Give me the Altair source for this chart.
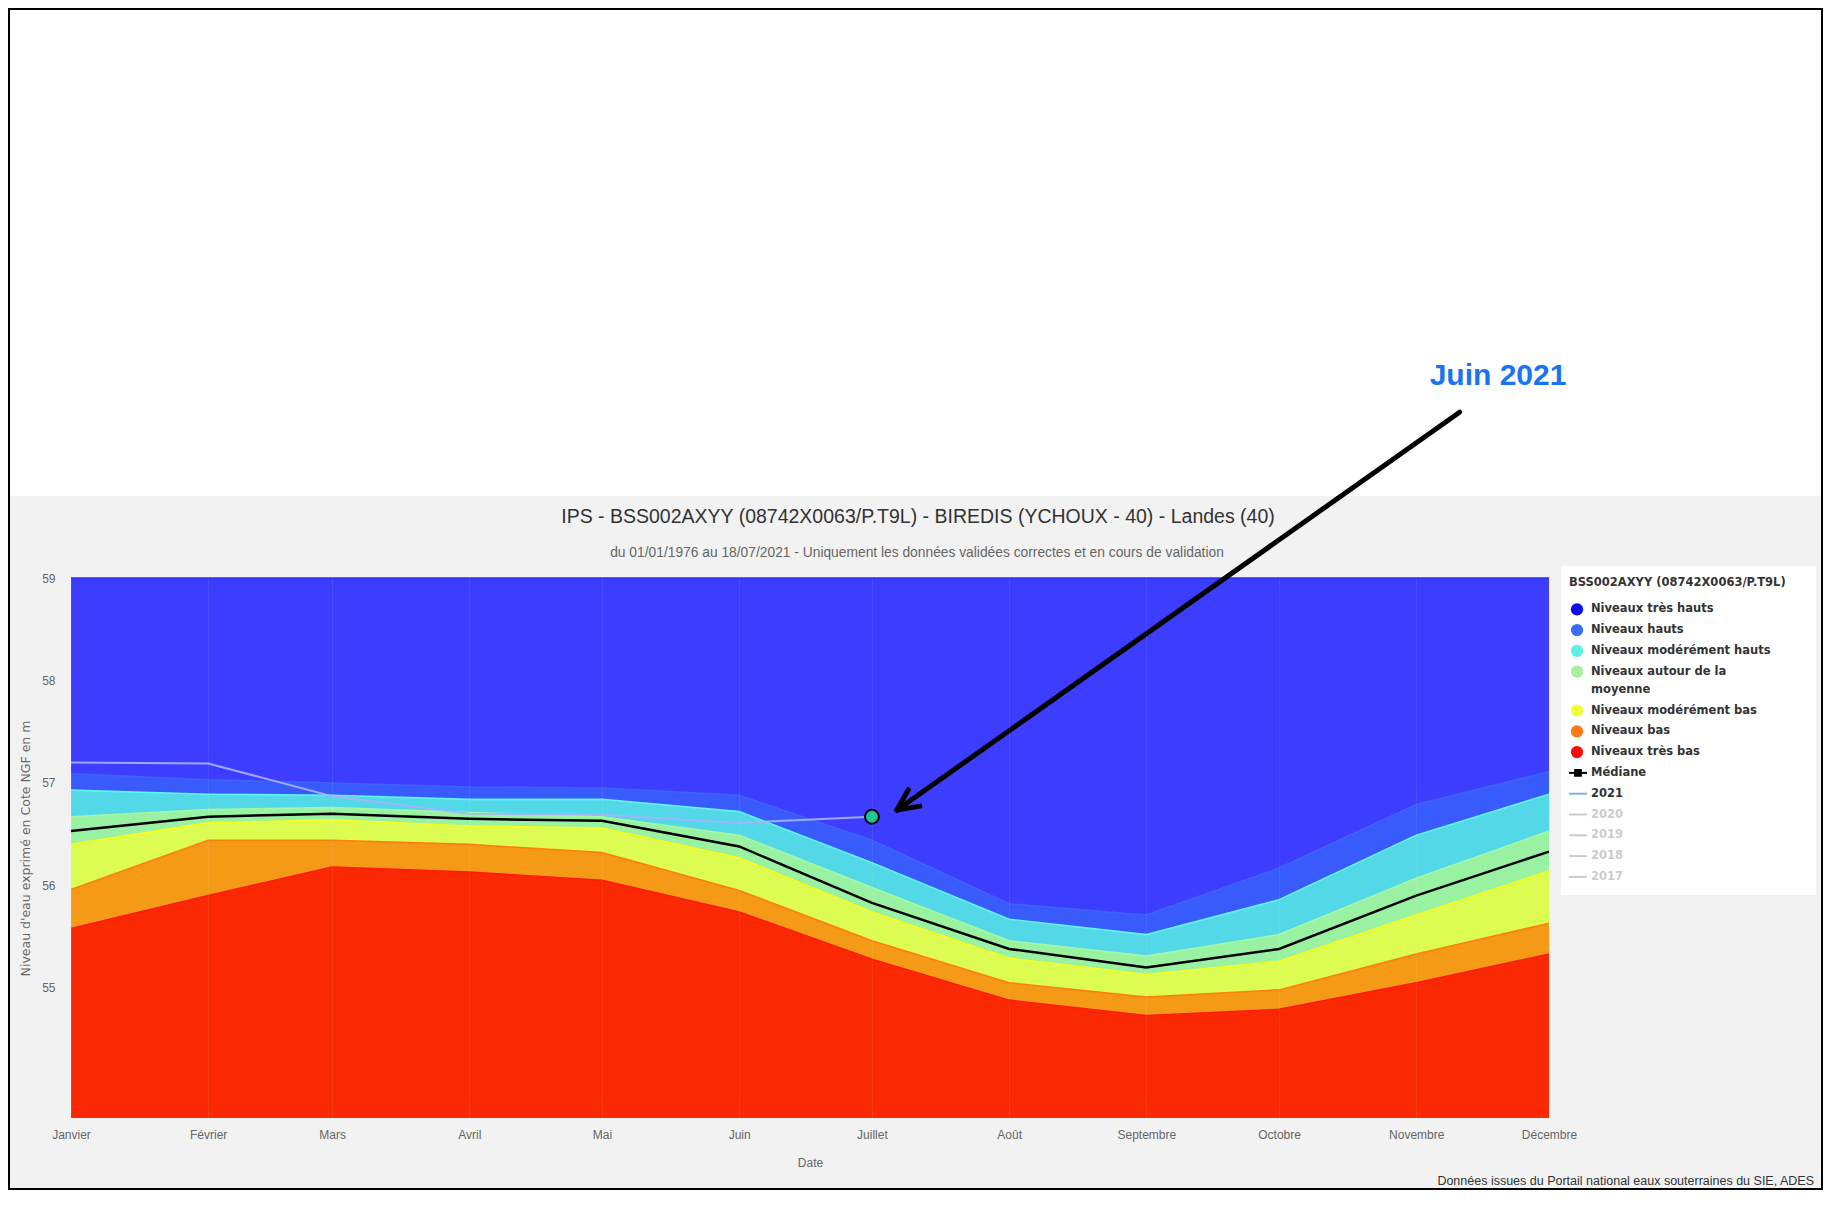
import altair as alt
import pandas as pd

# ---------------- data ----------------
MONTHS = ["Janvier", "Février", "Mars", "Avril", "Mai", "Juin", "Juillet",
          "Août", "Septembre", "Octobre", "Novembre", "Décembre"]
DAYS = [0, 31, 59, 90, 120, 151, 181, 212, 243, 273, 304, 334]
Y_MIN, Y_MAX = 53.73, 59.0
Y_TICKS = [55, 56, 57, 58, 59]

# upper boundary of each band (bottom -> top)
TOP_VERY_LOW = [55.58, 55.90, 56.18, 56.13, 56.05, 55.74, 55.28, 54.88, 54.73, 54.79, 55.05, 55.33]
TOP_LOW      = [55.96, 56.44, 56.44, 56.40, 56.32, 55.95, 55.46, 55.05, 54.91, 54.98, 55.33, 55.63]
TOP_MOD_LOW  = [56.40, 56.61, 56.64, 56.58, 56.56, 56.27, 55.74, 55.29, 55.13, 55.26, 55.71, 56.14]
TOP_MEAN     = [56.67, 56.74, 56.76, 56.71, 56.67, 56.49, 55.98, 55.46, 55.31, 55.52, 56.07, 56.53]
TOP_MOD_HIGH = [56.93, 56.89, 56.88, 56.84, 56.84, 56.72, 56.22, 55.67, 55.52, 55.86, 56.49, 56.89]
TOP_HIGH     = [57.09, 57.03, 57.00, 56.96, 56.95, 56.88, 56.44, 55.82, 55.71, 56.17, 56.79, 57.11]
TOP_VERY_HIGH = [Y_MAX] * 12
MEDIANE      = [56.53, 56.67, 56.70, 56.65, 56.63, 56.38, 55.83, 55.38, 55.20, 55.38, 55.90, 56.33]
Y2021        = [57.20, 57.19, 56.87, 56.70, 56.69, 56.61, 56.67]

BANDS = ["Niveaux très bas", "Niveaux bas", "Niveaux modérément bas",
         "Niveaux autour de la moyenne", "Niveaux modérément hauts",
         "Niveaux hauts", "Niveaux très hauts"]
BAND_TOPS = [TOP_VERY_LOW, TOP_LOW, TOP_MOD_LOW, TOP_MEAN, TOP_MOD_HIGH, TOP_HIGH, TOP_VERY_HIGH]
FILL_COLORS = ["#fb2804", "#f49a16", "#dcfc52", "#99f2a2", "#52d8e6", "#3a5bfb", "#3d3dff"]
LINE_COLORS = ["#ff1a00", "#ff7f0a", "#f8ff1a", "#a4f7a4", "#5ff5f5", "#3d62ff", "#2b2bff"]
LEGEND_COLORS = ["#ff0a0a", "#ff7a10", "#eeff33", "#a8f0a0", "#5ef0e0", "#3a6cff", "#0a0af0"]

TITLE = "IPS - BSS002AXYY (08742X0063/P.T9L) - BIREDIS (YCHOUX - 40) - Landes (40)"
SUBTITLE = "du 01/01/1976 au 18/07/2021 - Uniquement les données validées correctes et en cours de validation"
LEGEND_TITLE = "BSS002AXYY (08742X0063/P.T9L)"
YEARS_OLD = ["2020", "2019", "2018", "2017"]
FOOTER = "Données issues du Portail national eaux souterraines du SIE, ADES"
ANNOT = "Juin 2021"

# ---------------- tables ----------------
rows = []
for bi, name in enumerate(BANDS):
    lower = BAND_TOPS[bi - 1] if bi > 0 else [Y_MIN] * 12
    for d, lo, up in zip(DAYS, lower, BAND_TOPS[bi]):
        rows.append({"day": d, "lower": lo, "upper": up, "band": name, "order": bi})
bands_df = pd.DataFrame(rows)
med_df = pd.DataFrame({"day": DAYS, "value": MEDIANE})
y21_df = pd.DataFrame({"day": DAYS[:len(Y2021)], "value": Y2021})
last_df = y21_df.tail(1)

FONT = "Liberation Sans"
LFONT = "DejaVu Sans"
W, H = 1478, 540

label_expr = "[" + ",".join("'%s'" % m for m in MONTHS) + "][indexof([" + \
    ",".join(str(d) for d in DAYS) + "], datum.value)]"

xscale = alt.Scale(domain=[0, 334], nice=False, zero=False)
yscale = alt.Scale(domain=[Y_MIN, Y_MAX], nice=False, zero=False)

x_axis = alt.Axis(values=DAYS, labelExpr=label_expr, title="Date", grid=True,
                  gridColor="#ffffff", gridOpacity=0.07, gridWidth=1,
                  ticks=False, tickSize=0, domain=False, labelFlush=False,
                  labelOverlap=False, labelBound=False,
                  labelFont=FONT, labelFontSize=12, labelColor="#666666",
                  labelBaseline="middle", labelPadding=16,
                  titleFont=FONT, titleFontSize=12, titleColor="#666666",
                  titleFontWeight="normal", titleX=739, titleY=44,
                  titleBaseline="middle", titleAlign="center", zindex=1)
y_axis = alt.Axis(values=Y_TICKS, format="d", title="Niveau d'eau exprimé en Cote NGF en m",
                  grid=False, ticks=False, tickSize=0, domain=False,
                  labelFont=FONT, labelFontSize=12, labelColor="#666666",
                  labelPadding=16, labelAlign="right", labelBaseline="middle",
                  labelFlush=False, labelOverlap=False,
                  titleFont=LFONT, titleFontSize=12.5, titleColor="#666666",
                  titleFontWeight="normal", titleX=-46, titleY=270,
                  titleAngle=270, titleAlign="center", titleBaseline="middle",
                  zindex=1)

ONE = pd.DataFrame({"k": [0]})


def txt(s, x, y, **kw):
    return alt.Chart(ONE).mark_text(**kw).encode(
        x=alt.value(x), y=alt.value(y), text=alt.value(s))


def seg(x1, y1, x2, y2, **kw):
    return alt.Chart(ONE).mark_rule(**kw).encode(
        x=alt.value(x1), y=alt.value(y1), x2=alt.value(x2), y2=alt.value(y2))


def box(x1, y1, x2, y2, **kw):
    return alt.Chart(ONE).mark_rect(**kw).encode(
        x=alt.value(x1), y=alt.value(y1), x2=alt.value(x2), y2=alt.value(y2))


layers = []
# page panel
layers.append(box(-63, -82, 1752, 612, color="#f2f2f2"))
# legend box
layers.append(box(1490, -12, 1745, 317, color="#ffffff"))

# bands
areas = alt.Chart(bands_df).mark_area(opacity=1).encode(
    x=alt.X("day:Q", scale=xscale, axis=x_axis),
    y=alt.Y("lower:Q", scale=yscale, axis=y_axis, stack=None),
    y2="upper:Q",
    fill=alt.Fill("band:N", scale=alt.Scale(domain=BANDS, range=FILL_COLORS), legend=None),
    order="order:Q",
)
layers.append(areas)
edges = alt.Chart(bands_df).mark_line(strokeWidth=1.6).encode(
    x=alt.X("day:Q", scale=xscale),
    y=alt.Y("upper:Q", scale=yscale, stack=None),
    stroke=alt.Stroke("band:N", scale=alt.Scale(domain=BANDS, range=LINE_COLORS), legend=None),
)
layers.append(edges)
# median
layers.append(alt.Chart(med_df).mark_line(color="#000000", strokeWidth=2.5).encode(
    x=alt.X("day:Q", scale=xscale), y=alt.Y("value:Q", scale=yscale)))
# 2021
layers.append(alt.Chart(y21_df).mark_line(color="#a6b4ff", strokeWidth=2, opacity=0.9).encode(
    x=alt.X("day:Q", scale=xscale), y=alt.Y("value:Q", scale=yscale)))
layers.append(alt.Chart(last_df).mark_point(shape="circle", filled=True, size=190,
                                            fill="#1ec896", stroke="#000000",
                                            strokeWidth=2, opacity=1).encode(
    x=alt.X("day:Q", scale=xscale), y=alt.Y("value:Q", scale=yscale)))

# legend (manual)
LX_SYM, LX_TXT = 1506, 1520
layers.append(txt(LEGEND_TITLE, 1498, 5, font=LFONT, fontSize=11.5, fontWeight="bold",
                  color="#333333", align="left", baseline="middle"))
legend_names = list(reversed(BANDS))
legend_cols = list(reversed(LEGEND_COLORS))


def ly(i):
    return 31.3 + 20.8 * i + (18 if i >= 4 else 0)


for i, (name, col) in enumerate(zip(legend_names, legend_cols)):
    layers.append(alt.Chart(ONE).mark_point(shape="circle", filled=True, size=150,
                                            color=col, opacity=1).encode(
        x=alt.value(LX_SYM), y=alt.value(ly(i))))
    if name == "Niveaux autour de la moyenne":
        layers.append(txt("Niveaux autour de la", LX_TXT, ly(i), font=LFONT, fontSize=11.5,
                          fontWeight="bold", color="#333333", align="left", baseline="middle"))
        layers.append(txt("moyenne", LX_TXT, ly(i) + 18, font=LFONT, fontSize=11.5,
                          fontWeight="bold", color="#333333", align="left", baseline="middle"))
    else:
        layers.append(txt(name, LX_TXT, ly(i), font=LFONT, fontSize=11.5,
                          fontWeight="bold", color="#333333", align="left", baseline="middle"))
# Médiane
layers.append(seg(1498, ly(7), 1516, ly(7), color="#000000", strokeWidth=2))
layers.append(alt.Chart(ONE).mark_square(size=60, color="#000000", opacity=1).encode(
    x=alt.value(1507), y=alt.value(ly(7))))
layers.append(txt("Médiane", LX_TXT, ly(7), font=LFONT, fontSize=11.5, fontWeight="bold",
                  color="#333333", align="left", baseline="middle"))
# 2021
layers.append(seg(1498, ly(8), 1516, ly(8), color="#7cb5ec", strokeWidth=2))
layers.append(txt("2021", LX_TXT, ly(8), font=LFONT, fontSize=11.5, fontWeight="bold",
                  color="#333333", align="left", baseline="middle"))
for j, yr in enumerate(YEARS_OLD):
    layers.append(seg(1498, ly(9 + j), 1516, ly(9 + j), color="#cccccc", strokeWidth=2))
    layers.append(txt(yr, LX_TXT, ly(9 + j), font=LFONT, fontSize=11.5, fontWeight="bold",
                      color="#cccccc", align="left", baseline="middle"))

# titles
layers.append(txt(TITLE, 847, -61, font=FONT, fontSize=19.5, color="#333333",
                  align="center", baseline="middle"))
layers.append(txt(SUBTITLE, 846, -25, font=FONT, fontSize=13.8, color="#666666",
                  align="center", baseline="middle"))
layers.append(txt(FOOTER, 1743, 603, font=FONT, fontSize=12.5, color="#333333",
                  align="right", baseline="middle"))
layers.append(txt(ANNOT, 1427, -202, font=FONT, fontSize=30, fontWeight="bold",
                  color="#1a73f5", align="center", baseline="middle"))

# arrow
layers.append(seg(1388.6, -165.8, 826, 232, color="#000000", strokeWidth=5, strokeCap="round"))
layers.append(seg(826, 232, 837.3, 211.7, color="#000000", strokeWidth=5, strokeCap="round"))
layers.append(seg(826, 232, 848.9, 228.1, color="#000000", strokeWidth=5, strokeCap="round"))

# outer frame
layers.append(box(-62, -569, 1751, 611, filled=False, stroke="#000000", strokeWidth=2,
                  fillOpacity=0))

chart = alt.layer(*layers).properties(
    width=W, height=H,
    padding={"left": 63, "top": 570, "right": 274, "bottom": 72},
    autosize=alt.AutoSizeParams(type="none"),
    background="#ffffff",
).configure_view(strokeWidth=0)

chart.save("out.html", embed_options={"renderer": "svg", "actions": False})
